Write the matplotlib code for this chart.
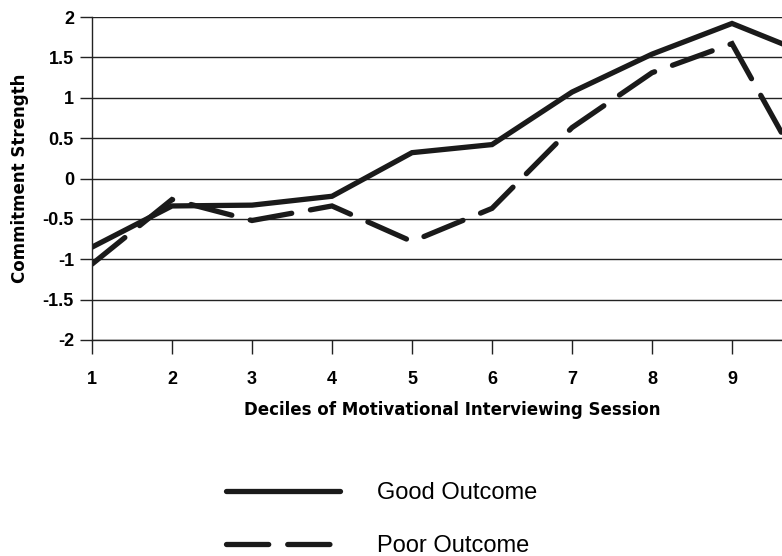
import matplotlib
matplotlib.use("Agg")
import matplotlib.pyplot as plt

# Données
deciles = [1, 2, 3, 4, 5, 6, 7, 8, 9, 10]
good_outcome = [-0.85, -0.34, -0.33, -0.22, 0.32, 0.42, 1.07, 1.54, 1.92, 1.52]
poor_outcome = [-1.06, -0.26, -0.52, -0.34, -0.78, -0.37, 0.63, 1.31, 1.67, -0.11]
yticks = [-2, -1.5, -1, -0.5, 0, 0.5, 1, 1.5, 2]
ytick_labels = ["-2", "-1.5", "-1", "-0.5", "0", "0.5", "1", "1.5", "2"]

plt.rcParams['font.family'] = ['Liberation Sans', 'DejaVu Sans']
plt.rcParams['font.weight'] = 'bold'

fig = plt.figure(figsize=(7.82, 5.56), dpi=100)
# l'axe continue au-delà du bord droit (décile 10 coupé comme sur l'original)
ax = fig.add_axes([92/782, 216/556, 720/782, 323/556])

lw = 3.8
ax.plot(deciles, good_outcome, color='#1a1a1a', linewidth=lw,
        solid_capstyle='round', solid_joinstyle='miter', label='Good Outcome')
ax.plot(deciles, poor_outcome, color='#1a1a1a', linewidth=lw,
        dashes=(8, 3.6), dash_capstyle='round', dash_joinstyle='miter',
        label='Poor Outcome')

ax.set_xlim(1, 10)
ax.set_ylim(-2, 2)
ax.set_xticks(deciles[:-1])  # le 10 est hors de l'image
ax.set_yticks(yticks)
ax.set_yticklabels(ytick_labels)
ax.yaxis.grid(True, color='#222222', linewidth=1.0)
ax.set_axisbelow(True)

for s in ['top', 'right', 'bottom']:
    ax.spines[s].set_visible(False)
ax.spines['left'].set_color('#222222')
ax.spines['left'].set_linewidth(1.0)

ax.tick_params(axis='y', length=9, width=1.0, color='#222222', labelsize=13, pad=4)
ax.tick_params(axis='x', length=10, width=1.0, color='#222222', labelsize=13, pad=12)
ax.axhline(-2, color='#222222', linewidth=1.0, clip_on=False)

ax.set_xlabel('Deciles of Motivational Interviewing Session', fontsize=12,
              fontweight='bold', family='DejaVu Sans', labelpad=10)
ax.set_ylabel('Commitment Strength', fontsize=12, fontweight='bold',
              family='DejaVu Sans', labelpad=10)

fig.legend(loc='upper left', bbox_to_anchor=(205/782, 1 - 461/556),
           frameon=False, handlelength=4.8,
           handletextpad=1.6, labelspacing=1.3, prop={'weight': 'normal', 'size': 17})

fig.savefig('out.png', dpi=100)
